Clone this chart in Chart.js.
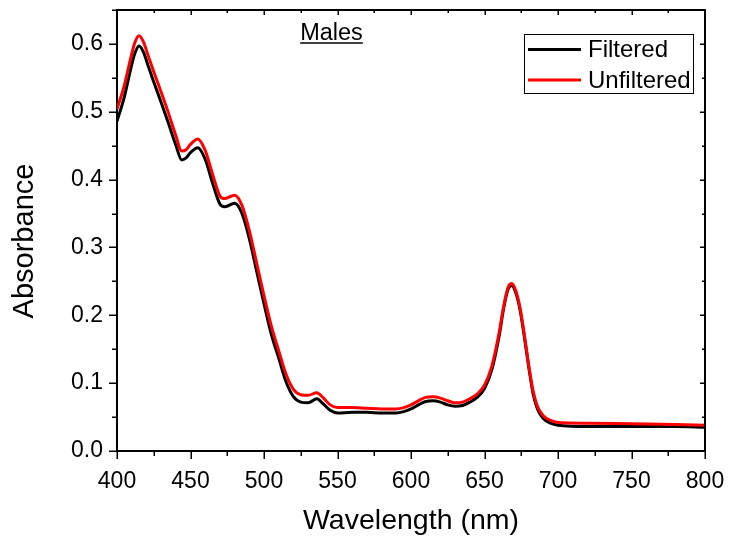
<!DOCTYPE html>
<html>
<head>
<meta charset="utf-8">
<script src="https://cdn.jsdelivr.net/npm/chart.js@4/dist/chart.umd.min.js"></script>
<style>
html,body{margin:0;padding:0;background:#fff;}
#wrap{width:731px;height:544px;position:relative;}
</style>
</head>
<body>
<div id="wrap"><canvas id="c" width="731" height="544"></canvas></div>
<script>
const wavelengths = [400,405,409,412,415,418,421,425,430,435,440,444,447,450,455,460,465,470,473,480,485,490,495,500,505,510,515,520,525,530,536,540,545,550,560,570,580,590,595,600,605,610,615,620,625,630,635,640,645,650,655,660,663,666,668.5,671,674,677,680,683,686,690,695,700,720,750,780,800];
const filtered = [0.486,0.522,0.560,0.585,0.597,0.588,0.569,0.544,0.514,0.483,0.451,0.429,0.432,0.440,0.447,0.430,0.395,0.364,0.360,0.365,0.350,0.313,0.265,0.217,0.172,0.137,0.102,0.080,0.072,0.071,0.077,0.070,0.060,0.056,0.057,0.057,0.056,0.056,0.058,0.062,0.068,0.073,0.074,0.072,0.068,0.066,0.067,0.072,0.079,0.092,0.120,0.170,0.210,0.238,0.244,0.235,0.210,0.170,0.125,0.085,0.062,0.048,0.041,0.038,0.036,0.036,0.036,0.035];
const unfiltered = [0.504,0.539,0.576,0.601,0.612,0.603,0.584,0.559,0.529,0.498,0.465,0.442,0.444,0.452,0.460,0.443,0.408,0.376,0.372,0.377,0.362,0.325,0.277,0.229,0.184,0.148,0.113,0.091,0.083,0.082,0.086,0.079,0.068,0.064,0.064,0.063,0.062,0.062,0.064,0.068,0.074,0.079,0.080,0.078,0.074,0.071,0.072,0.077,0.084,0.097,0.125,0.175,0.213,0.241,0.247,0.238,0.213,0.173,0.128,0.089,0.066,0.052,0.045,0.042,0.041,0.040,0.039,0.038];
const seriesNames = ['Filtered','Unfiltered'];
const xTickValues = [400,450,500,550,600,650,700,750,800];
const yTickLabels = ['0.0','0.1','0.2','0.3','0.4','0.5','0.6'];
const panelTitle = 'Males';
const xTitle = 'Wavelength (nm)';
const yTitle = 'Absorbance';

const FONT = "'Liberation Sans', Arial, sans-serif";

const toPts = arr => wavelengths.map((w,i)=>({x:w,y:arr[i]}));

const frameTicks = {
  id:'frameTicks',
  afterDraw(chart){
    const {ctx, chartArea:a, scales:{x,y}} = chart;
    ctx.save();
    ctx.strokeStyle = '#000';
    ctx.lineWidth = 2;
    ctx.beginPath();
    ctx.moveTo(a.left-1, a.top); ctx.lineTo(a.right, a.top); ctx.lineTo(a.right, a.bottom+1);
    ctx.stroke();
    ctx.lineWidth = 1.5;
    ctx.beginPath();
    for(let v=400; v<=800; v+=25){
      const px = Math.round(x.getPixelForValue(v))+0.25;
      const major = v%50===0;
      ctx.moveTo(px, a.bottom); ctx.lineTo(px, a.bottom + (major?8:5));
      ctx.moveTo(px, a.top); ctx.lineTo(px, a.top + (major?5:3));
    }
    for(let k=0; k<=13; k++){
      const v = k*0.05;
      const py = Math.round(y.getPixelForValue(v))+0.25;
      const major = k%2===0;
      ctx.moveTo(a.left, py); ctx.lineTo(a.left - (major?8:5), py);
      ctx.moveTo(a.right, py); ctx.lineTo(a.right - (major?5:3), py);
    }
    ctx.stroke();

    // y-axis title
    ctx.save();
    ctx.fillStyle = '#000';
    ctx.font = '29px ' + FONT;
    ctx.translate(25, 241);
    ctx.rotate(-Math.PI/2);
    ctx.textAlign = 'center';
    ctx.textBaseline = 'middle';
    ctx.fillText(yTitle, 0, 0);
    ctx.restore();

    ctx.fillStyle = '#000';
    ctx.font = '23.5px ' + FONT;
    ctx.textAlign = 'center';
    ctx.textBaseline = 'alphabetic';
    const tx = 331.5, ty = 40;
    ctx.fillText(panelTitle, tx, ty);
    const tw = ctx.measureText(panelTitle).width;
    ctx.lineWidth = 1.5;
    ctx.beginPath();
    ctx.moveTo(tx - tw/2, ty+3); ctx.lineTo(tx + tw/2, ty+3);
    ctx.stroke();

    const lx = 524.5, ly = 34.5, lw = 169, lh = 59;
    ctx.lineWidth = 1;
    ctx.strokeStyle = '#000';
    ctx.strokeRect(lx, ly, lw, lh);
    ctx.font = '24px ' + FONT;
    ctx.textAlign = 'left';
    ctx.textBaseline = 'middle';
    chart.data.datasets.forEach((ds, i) => {
      const yy = 49.5 + i*30.5;
      ctx.strokeStyle = ds.borderColor;
      ctx.lineWidth = 3;
      ctx.beginPath();
      ctx.moveTo(528, yy); ctx.lineTo(581, yy);
      ctx.stroke();
      ctx.fillStyle = '#000';
      ctx.fillText(ds.label, 588, yy+1);
    });
    ctx.restore();
  }
};

new Chart(document.getElementById('c'), {
  type:'line',
  data:{
    datasets:[
      {label:seriesNames[0], data:toPts(filtered), borderColor:'#000000', backgroundColor:'#000000', borderWidth:3, pointRadius:0, cubicInterpolationMode:'monotone', order:2},
      {label:seriesNames[1], data:toPts(unfiltered), borderColor:'#ff0000', backgroundColor:'#ff0000', borderWidth:3, pointRadius:0, cubicInterpolationMode:'monotone', order:1}
    ]
  },
  options:{
    responsive:false,
    animation:false,
    events:[],
    layout:{padding:{left:0, top:10, right:26, bottom:0}},
    plugins:{legend:{display:false}, tooltip:{enabled:false}},
    scales:{
      x:{
        type:'linear', min:400, max:800,
        afterFit(s){ s.height = 93; s.paddingLeft = 0; s.paddingRight = 0; },
        afterBuildTicks(s){ s.ticks = xTickValues.map(v=>({value:v})); },
        ticks:{color:'#000', font:{family:FONT, size:23}, padding:17, maxRotation:0, autoSkip:false, callback:v=>String(v)},
        grid:{display:false, drawTicks:false, tickLength:0},
        border:{display:true, color:'#000', width:2},
        title:{display:true, text:xTitle, color:'#000', font:{family:FONT, size:28.5}, padding:{top:0, bottom:6}}
      },
      y:{
        type:'linear', min:0, max:0.65,
        afterFit(s){ s.width = 117; s.paddingTop = 0; s.paddingBottom = 0; },
        afterBuildTicks(s){ s.ticks = yTickLabels.map(t=>({value:parseFloat(t)})); },
        ticks:{color:'#000', font:{family:FONT, size:23}, padding:14, autoSkip:false, callback:(v,i)=>yTickLabels[i]},
        grid:{display:false, drawTicks:false, tickLength:0},
        border:{display:true, color:'#000', width:2},
        title:{display:false, text:yTitle}
      }
    }
  },
  plugins:[frameTicks]
});
</script>
</body>
</html>
